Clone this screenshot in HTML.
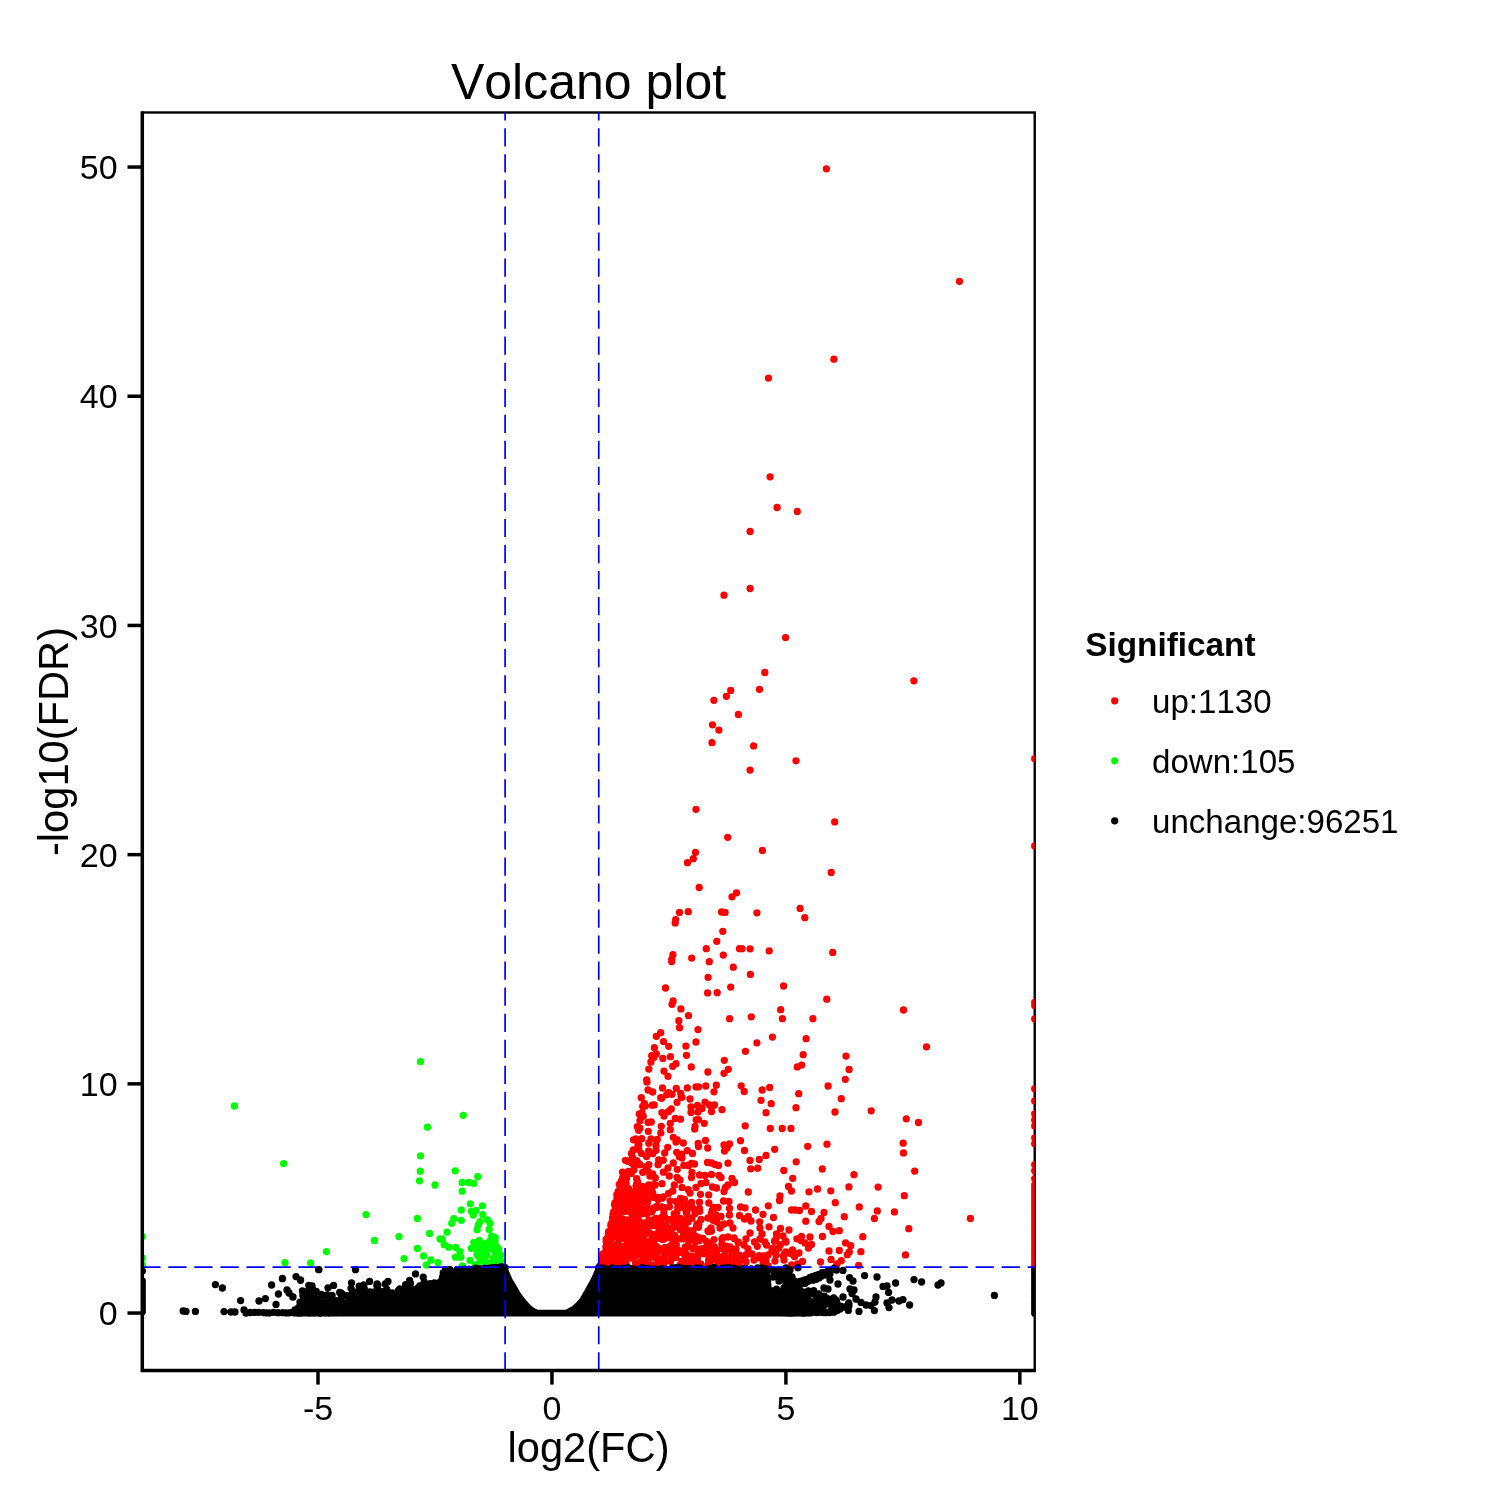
<!DOCTYPE html>
<html lang="en"><head><meta charset="utf-8"><title>Volcano plot</title>
<style>html,body{margin:0;padding:0;background:#fff}svg{display:block;will-change:transform}</style></head>
<body>
<svg width="1500" height="1500" viewBox="0 0 1500 1500">
<rect width="1500" height="1500" fill="#fff"/>
<defs><clipPath id="pc"><rect x="142.3" y="112.5" width="892.4" height="1257.9"/></clipPath></defs>
<rect x="142.3" y="112.5" width="892.4" height="1257.9" fill="none" stroke="#000" stroke-width="2.4"/>
<g clip-path="url(#pc)" fill="none" stroke-linecap="round" stroke-width="7.3">
<path stroke="#f00" d="M826.4 168.8h0M959.5 281.3h0M833.9 359.2h0M768.5 378.1h0M770.1 476.8h0M777.1 507.5h0M797.3 511.5h0M750.1 531.5h0M750.1 588.5h0M724.0 595.2h0M785.6 637.6h0M764.8 672.5h0M913.9 680.8h0M759.5 689.3h0M730.7 690.4h0M726.4 696.3h0M713.9 700.3h0M738.4 714.4h0M712.5 724.8h0M718.9 730.1h0M712.0 742.7h0M753.6 745.9h0M796.0 760.8h0M750.1 770.1h0M696.0 809.3h0M834.7 821.9h0M727.7 837.3h0M762.4 850.4h0M695.5 852.3h0M693.3 858.7h0M687.5 862.7h0M831.2 872.5h0M699.2 887.5h0M736.5 892.8h0M732.0 896.8h0M800.1 908.4h0M679.5 912.4h0M688.3 911.7h0M721.6 912.0h0M725.1 912.4h0M756.9 912.8h0M804.8 917.7h0M675.7 919.7h0M675.2 922.9h0M722.8 931.3h0M716.8 941.3h0M706.3 948.7h0M742.0 948.7h0M750.1 948.8h0M769.2 950.8h0M832.7 952.4h0M672.9 954.7h0M723.3 955.1h0M691.7 958.1h0M671.7 959.3h0M671.7 961.6h0M709.3 961.7h0M733.3 967.2h0M750.4 974.4h0M708.1 977.3h0M783.6 986.0h0M730.7 987.1h0M665.5 988.0h0M707.6 992.9h0M717.2 992.7h0M826.8 999.2h0M673.1 1000.9h0M672.0 1004.3h0M680.9 1008.9h0M780.7 1009.7h0M688.5 1015.6h0M751.3 1016.8h0M729.6 1018.7h0M782.4 1018.7h0M812.9 1018.7h0M678.8 1020.7h0M679.5 1027.7h0M698.0 1029.6h0M660.7 1032.7h0M656.3 1036.3h0M772.4 1037.1h0M806.1 1038.7h0M663.5 1041.6h0M696.0 1042.0h0M756.9 1042.8h0M668.7 1046.3h0M685.9 1046.1h0M654.4 1047.7h0M745.5 1051.3h0M656.3 1054.0h0M651.7 1055.7h0M803.2 1054.7h0M670.4 1056.7h0M686.5 1055.3h0M662.8 1058.4h0M654.0 1057.3h0M724.3 1060.3h0M650.9 1062.0h0M676.0 1063.7h0M672.7 1066.3h0M801.7 1065.1h0M797.3 1066.9h0M691.3 1066.9h0M648.8 1069.1h0M728.3 1069.3h0M664.0 1071.1h0M707.9 1072.0h0M724.0 1073.3h0M668.0 1076.3h0M646.7 1080.0h0M903.5 1010.0h0M926.5 1046.8h0M846.0 1056.1h0M849.1 1069.5h0M845.3 1079.3h0M841.3 1098.7h0M871.2 1110.8h0M906.3 1118.8h0M918.5 1122.5h0M903.2 1143.2h0M903.5 1152.9h0M914.7 1171.1h0M854.0 1174.7h0M848.9 1186.9h0M878.1 1187.1h0M904.3 1195.7h0M859.3 1206.9h0M877.3 1210.9h0M894.4 1211.9h0M844.3 1216.7h0M874.4 1218.5h0M970.4 1218.4h0M908.8 1228.7h0M839.3 1230.7h0M862.8 1236.7h0M845.6 1242.9h0M850.7 1245.7h0M839.3 1250.4h0M860.9 1251.7h0M849.3 1252.0h0M847.3 1254.7h0M905.5 1254.9h0M841.3 1260.7h0M858.7 1265.3h0M696.0 1086.8h0M698.5 1086.8h0M705.8 1086.0h0M716.3 1085.2h0M714.0 1091.8h0M741.2 1085.8h0M744.2 1091.5h0M762.2 1090.0h0M769.7 1087.5h0M798.7 1093.7h0M828.1 1086.0h0M690.0 1099.0h0M705.0 1102.2h0M697.5 1105.5h0M709.5 1105.0h0M714.5 1105.0h0M691.0 1107.0h0M702.0 1108.5h0M722.0 1109.7h0M711.5 1111.5h0M698.0 1112.0h0M691.0 1112.5h0M761.0 1100.3h0M771.2 1103.7h0M796.0 1107.7h0M835.0 1112.0h0M766.0 1112.7h0M696.2 1119.8h0M704.3 1123.3h0M695.0 1126.5h0M745.2 1125.8h0M770.3 1128.5h0M782.2 1128.5h0M791.0 1128.5h0M705.5 1140.5h0M698.2 1143.5h0M698.5 1146.5h0M707.7 1148.0h0M724.0 1145.0h0M729.5 1144.0h0M727.0 1148.0h0M724.5 1151.0h0M740.5 1140.7h0M744.5 1150.5h0M774.7 1149.3h0M807.7 1146.3h0M827.0 1144.2h0M692.5 1153.5h0M766.0 1155.5h0M759.3 1159.5h0M750.0 1160.5h0M796.2 1161.8h0M691.5 1163.5h0M694.5 1164.0h0M707.5 1162.5h0M711.5 1163.0h0M715.0 1164.5h0M718.5 1165.5h0M728.0 1163.2h0M750.7 1168.8h0M757.7 1168.2h0M783.8 1170.5h0M822.3 1169.0h0M692.0 1172.5h0M699.5 1175.0h0M705.0 1175.5h0M711.5 1174.5h0M719.0 1175.5h0M721.0 1177.5h0M732.0 1178.5h0M792.7 1178.3h0M691.5 1177.5h0M734.5 1182.5h0M706.0 1182.5h0M701.0 1183.5h0M728.0 1185.0h0M725.5 1187.5h0M696.0 1187.5h0M712.5 1187.0h0M716.5 1188.0h0M724.0 1191.5h0M788.5 1186.5h0M791.5 1191.0h0M817.5 1189.0h0M809.0 1191.8h0M830.8 1190.8h0M748.3 1192.0h0M700.5 1194.3h0M708.7 1194.8h0M780.0 1196.0h0M779.5 1200.5h0M690.0 1193.0h0M699.5 1202.2h0M708.8 1203.0h0M723.5 1201.0h0M729.0 1201.5h0M691.5 1202.5h0M835.3 1202.7h0M768.3 1205.8h0M805.8 1206.0h0M718.0 1207.5h0M729.5 1208.5h0M740.5 1207.0h0M745.0 1207.8h0M692.5 1208.0h0M755.5 1210.0h0M791.5 1210.0h0M795.0 1210.0h0M799.5 1210.5h0M811.5 1211.5h0M824.0 1212.5h0M763.0 1214.3h0M695.0 1213.5h0M716.0 1215.5h0M721.0 1216.5h0M729.5 1215.0h0M739.5 1215.5h0M748.3 1216.5h0M773.5 1217.5h0M708.0 1218.0h0M701.0 1219.5h0M692.0 1218.0h0M744.5 1219.0h0M751.0 1221.0h0M759.7 1221.8h0M805.8 1221.2h0M821.0 1218.5h0M819.0 1221.5h0M717.0 1222.0h0M730.0 1223.0h0M724.0 1224.0h0M697.0 1224.0h0M769.0 1226.8h0M829.0 1226.5h0M780.5 1228.5h0M711.0 1228.0h0M733.0 1228.0h0M720.0 1228.0h0M760.0 1228.0h0M789.0 1230.0h0M739.5 948.7h0M647.0 1082.0h0M648.0 1090.0h0M652.7 1092.0h0M662.5 1088.0h0M676.3 1088.3h0M668.7 1092.7h0M666.7 1094.7h0M672.0 1094.3h0M680.7 1093.3h0M661.7 1098.3h0M682.0 1097.3h0M677.0 1102.3h0M644.3 1103.3h0M642.7 1106.3h0M645.3 1106.0h0M671.3 1109.0h0M668.3 1111.7h0M642.0 1112.7h0M664.0 1116.0h0M643.3 1116.3h0M675.3 1118.3h0M640.0 1120.7h0M648.0 1122.3h0M651.3 1122.0h0M670.3 1123.3h0M661.3 1126.3h0M637.3 1126.7h0M670.3 1129.7h0M638.7 1130.3h0M648.3 1131.3h0M673.3 1137.3h0M635.7 1139.0h0M641.7 1138.7h0M651.0 1139.0h0M657.3 1139.3h0M677.3 1140.0h0M676.0 1142.0h0M683.3 1143.0h0M638.0 1145.3h0M656.0 1145.7h0M667.7 1147.3h0M633.3 1150.0h0M648.7 1151.0h0M656.0 1150.3h0M687.3 1150.7h0M664.7 1153.0h0M641.3 1153.3h0M652.7 1153.7h0M676.7 1152.3h0M632.3 1156.7h0M679.3 1156.7h0M682.0 1158.0h0M658.7 1160.0h0M663.3 1160.3h0M636.7 1160.7h0M673.3 1163.0h0M632.0 1163.3h0M689.3 1164.7h0M640.0 1164.7h0M658.0 1164.7h0M646.0 1166.7h0M668.0 1168.0h0M677.3 1169.3h0M648.0 1171.3h0M628.7 1171.3h0M631.3 1173.3h0M652.7 1174.0h0M669.3 1176.0h0M626.0 1177.3h0M655.3 1178.0h0M636.7 1178.7h0M680.0 1180.0h0M750.0 1233.0h0M833.0 1231.5h0M762.0 1234.0h0M776.5 1234.0h0M783.0 1236.0h0M801.5 1236.5h0M810.0 1237.0h0M822.5 1236.5h0M728.0 1237.0h0M734.0 1238.0h0M776.0 1239.0h0M801.0 1240.5h0M754.5 1242.0h0M760.0 1239.0h0M738.0 1242.0h0M746.0 1239.0h0M786.0 1242.0h0M805.0 1243.0h0M811.5 1244.5h0M766.5 1245.0h0M808.5 1248.0h0M723.0 1246.0h0M730.0 1247.0h0M736.0 1249.0h0M748.0 1249.0h0M744.0 1245.0h0M717.0 1250.0h0M779.0 1248.0h0M772.0 1250.0h0M792.5 1250.0h0M799.0 1253.0h0M829.0 1251.0h0M784.5 1254.0h0M794.5 1256.5h0M768.0 1255.0h0M776.0 1255.0h0M752.0 1254.0h0M746.0 1255.0h0M739.0 1256.0h0M732.0 1255.0h0M724.0 1257.0h0M718.0 1256.0h0M831.0 1259.5h0M802.5 1261.5h0M820.5 1262.0h0M784.0 1260.0h0M760.0 1258.0h0M754.0 1260.0h0M766.0 1260.0h0M775.0 1261.0h0M746.0 1262.0h0M736.0 1261.0h0M729.0 1262.0h0M721.0 1262.0h0M739.0 1265.5h0M837.0 1264.0h0M835.5 1267.0h0M655.1 1185.0h0M616.7 1217.3h0M676.4 1216.5h0M625.9 1192.4h0M618.9 1250.2h0M637.9 1234.9h0M623.3 1185.4h0M641.9 1238.5h0M645.2 1230.4h0M664.0 1248.3h0M652.8 1193.1h0M629.6 1255.3h0M685.2 1252.2h0M611.4 1237.1h0M609.1 1254.9h0M626.6 1254.3h0M630.0 1193.0h0M615.1 1202.6h0M643.2 1213.7h0M612.2 1234.5h0M628.0 1198.0h0M619.3 1184.5h0M644.3 1188.7h0M656.0 1255.2h0M649.0 1220.1h0M617.0 1251.3h0M647.7 1261.8h0M611.1 1226.7h0M642.4 1202.5h0M667.4 1250.4h0M638.1 1224.5h0M629.7 1211.4h0M675.9 1257.4h0M673.3 1236.2h0M645.4 1244.5h0M635.6 1263.6h0M665.3 1261.4h0M659.1 1264.3h0M619.4 1227.2h0M658.4 1263.5h0M621.3 1251.0h0M646.4 1202.3h0M632.6 1258.3h0M645.7 1258.9h0M610.8 1225.0h0M635.2 1227.9h0M672.5 1227.8h0M628.8 1228.2h0M647.7 1246.4h0M643.9 1239.6h0M684.9 1255.4h0M636.0 1186.2h0M628.3 1209.2h0M606.8 1242.1h0M612.5 1217.9h0M649.6 1233.7h0M637.2 1189.0h0M627.2 1247.0h0M665.5 1229.1h0M623.5 1200.5h0M624.1 1223.0h0M637.5 1181.6h0M651.8 1243.0h0M684.8 1220.8h0M640.7 1250.4h0M637.1 1251.8h0M688.5 1239.1h0M639.0 1214.8h0M627.2 1202.0h0M632.7 1204.2h0M623.2 1219.5h0M641.0 1206.6h0M653.4 1197.3h0M621.6 1202.7h0M621.1 1183.6h0M636.2 1255.6h0M613.1 1264.7h0M615.3 1249.9h0M664.2 1238.7h0M647.6 1244.4h0M620.6 1201.7h0M644.4 1263.9h0M660.5 1233.1h0M657.1 1206.2h0M662.7 1239.5h0M684.2 1264.1h0M632.2 1218.7h0M619.3 1261.3h0M663.8 1256.3h0M644.5 1257.2h0M624.7 1206.0h0M677.8 1207.2h0M676.3 1244.6h0M652.7 1265.9h0M633.0 1216.8h0M622.9 1260.5h0M624.9 1223.9h0M667.2 1227.2h0M630.6 1235.4h0M612.2 1259.7h0M623.3 1264.0h0M628.7 1194.4h0M645.4 1257.9h0M689.7 1257.9h0M631.4 1192.0h0M620.2 1209.4h0M639.8 1244.5h0M639.7 1225.1h0M621.2 1254.2h0M643.4 1257.0h0M623.3 1201.4h0M654.4 1219.3h0M632.1 1235.5h0M639.9 1230.1h0M608.6 1231.7h0M643.7 1256.0h0M615.6 1206.4h0M641.4 1238.0h0M683.7 1237.4h0M647.8 1243.6h0M685.7 1237.2h0M621.1 1192.2h0M607.4 1244.2h0M641.4 1212.6h0M617.0 1194.6h0M686.6 1210.2h0M618.7 1262.9h0M674.5 1250.7h0M618.2 1259.1h0M604.2 1257.1h0M669.8 1249.8h0M634.7 1207.2h0M602.7 1261.1h0M631.8 1213.2h0M684.2 1222.4h0M656.3 1246.5h0M620.0 1201.3h0M688.9 1256.0h0M643.2 1241.0h0M634.4 1197.1h0M689.2 1236.2h0M604.7 1258.6h0M641.6 1254.5h0M685.3 1246.9h0M658.8 1231.3h0M623.5 1211.7h0M616.9 1197.5h0M621.6 1238.3h0M660.7 1227.3h0M642.4 1255.9h0M609.1 1258.2h0M651.6 1211.9h0M617.8 1263.2h0M687.8 1261.1h0M640.4 1224.5h0M613.0 1217.7h0M643.4 1247.1h0M618.9 1220.7h0M618.5 1217.0h0M612.9 1223.9h0M614.0 1224.0h0M686.2 1212.5h0M615.6 1250.1h0M619.5 1259.1h0M635.3 1223.5h0M681.2 1238.5h0M613.7 1247.5h0M674.2 1213.9h0M651.8 1265.2h0M642.2 1245.8h0M662.4 1230.4h0M622.7 1180.2h0M643.1 1233.0h0M613.2 1257.0h0M608.5 1236.2h0M621.1 1210.5h0M670.8 1254.9h0M682.8 1201.4h0M642.0 1225.7h0M674.3 1185.0h0M685.2 1227.4h0M674.5 1235.2h0M636.7 1206.6h0M623.4 1199.4h0M648.9 1247.8h0M687.1 1235.2h0M603.2 1255.7h0M653.5 1242.3h0M662.0 1198.2h0M614.0 1258.3h0M619.5 1192.2h0M610.4 1243.4h0M607.4 1256.7h0M685.1 1258.6h0M624.3 1197.7h0M657.9 1251.0h0M636.5 1241.6h0M609.9 1233.2h0M651.0 1240.6h0M610.2 1254.2h0M616.9 1194.7h0M688.1 1245.5h0M657.9 1247.7h0M682.0 1187.4h0M638.2 1210.0h0M618.5 1229.8h0M622.7 1256.1h0M628.5 1193.3h0M653.4 1208.1h0M667.0 1248.4h0M663.3 1196.9h0M644.7 1197.8h0M659.9 1238.4h0M661.7 1206.9h0M627.8 1234.1h0M684.1 1238.1h0M671.5 1236.3h0M688.0 1222.1h0M647.0 1260.9h0M617.2 1210.6h0M613.0 1214.4h0M647.7 1260.8h0M637.4 1248.9h0M625.9 1253.2h0M647.0 1201.8h0M608.3 1234.5h0M659.1 1261.9h0M628.5 1188.7h0M633.8 1246.8h0M671.5 1257.8h0M619.9 1252.1h0M650.7 1255.9h0M652.2 1185.0h0M602.8 1254.2h0M635.4 1252.3h0M606.9 1262.6h0M609.3 1234.7h0M684.2 1238.7h0M645.8 1264.4h0M604.5 1257.2h0M622.2 1246.3h0M631.6 1223.3h0M637.7 1208.5h0M612.9 1226.9h0M655.5 1258.2h0M671.2 1219.4h0M659.4 1258.6h0M605.6 1260.3h0M688.3 1260.6h0M627.1 1198.3h0M607.9 1263.1h0M670.1 1200.8h0M666.3 1253.6h0M606.2 1241.7h0M674.8 1236.0h0M669.4 1206.8h0M644.9 1254.0h0M670.7 1261.3h0M675.4 1240.5h0M633.1 1231.7h0M634.9 1256.4h0M614.5 1204.4h0M605.4 1256.3h0M682.8 1238.9h0M627.0 1220.0h0M672.2 1244.6h0M647.8 1256.1h0M623.5 1230.7h0M617.2 1247.7h0M653.0 1209.7h0M655.4 1221.8h0M617.9 1201.8h0M622.7 1195.5h0M681.9 1261.5h0M640.4 1231.4h0M623.3 1262.5h0M647.0 1213.8h0M689.3 1263.1h0M688.8 1235.6h0M631.2 1238.2h0M613.4 1245.2h0M634.3 1194.5h0M607.2 1238.3h0M614.0 1256.4h0M644.6 1234.0h0M644.6 1250.8h0M633.5 1192.3h0M652.2 1241.4h0M625.5 1254.9h0M626.2 1208.8h0M682.6 1207.4h0M604.9 1264.2h0M624.0 1237.5h0M633.8 1204.6h0M609.6 1259.6h0M606.6 1257.1h0M688.4 1205.2h0M632.9 1249.4h0M658.2 1198.8h0M622.1 1196.9h0M648.4 1232.3h0M653.8 1249.8h0M679.8 1221.0h0M678.3 1250.2h0M629.2 1199.2h0M676.3 1201.5h0M666.0 1225.0h0M665.1 1254.8h0M623.7 1204.0h0M633.1 1246.8h0M607.2 1252.9h0M684.1 1262.4h0M614.8 1225.6h0M611.4 1223.4h0M604.8 1256.1h0M626.1 1261.8h0M616.8 1235.7h0M646.3 1262.2h0M653.0 1220.1h0M627.2 1190.7h0M634.3 1215.0h0M632.3 1206.7h0M617.7 1246.4h0M640.7 1254.9h0M618.0 1243.5h0M674.3 1253.1h0M638.9 1232.2h0M668.0 1219.4h0M645.4 1223.0h0M618.5 1262.5h0M602.1 1258.3h0M617.3 1225.2h0M686.9 1255.7h0M647.6 1251.0h0M679.9 1265.2h0M624.8 1223.4h0M657.1 1234.2h0M657.1 1265.5h0M606.1 1239.4h0M651.4 1265.8h0M625.3 1189.2h0M608.8 1249.4h0M626.0 1210.4h0M639.7 1262.5h0M629.5 1250.2h0M673.5 1221.7h0M643.0 1194.9h0M626.1 1263.6h0M617.0 1214.7h0M633.5 1251.0h0M637.2 1196.4h0M668.6 1193.4h0M677.6 1203.2h0M686.8 1212.4h0M645.6 1261.8h0M680.5 1198.3h0M653.2 1224.1h0M633.8 1228.8h0M664.2 1207.6h0M638.0 1228.3h0M619.1 1205.5h0M637.6 1191.4h0M661.8 1238.4h0M622.2 1234.1h0M622.3 1183.5h0M626.9 1241.6h0M635.3 1238.9h0M670.5 1251.7h0M636.6 1184.1h0M611.9 1244.5h0M672.8 1191.0h0M673.6 1240.4h0M629.2 1226.8h0M644.6 1210.8h0M626.2 1237.6h0M620.5 1197.8h0M625.7 1211.2h0M617.4 1228.5h0M633.5 1201.6h0M683.6 1252.7h0M676.9 1211.8h0M644.7 1261.3h0M687.6 1218.1h0M671.3 1253.6h0M638.1 1216.2h0M636.9 1228.5h0M608.5 1249.8h0M632.0 1232.4h0M643.4 1261.9h0M654.8 1225.6h0M658.2 1199.5h0M656.9 1224.1h0M617.5 1215.1h0M671.7 1228.4h0M609.0 1246.8h0M613.7 1212.0h0M616.8 1254.9h0M613.7 1251.0h0M662.0 1183.7h0M674.0 1227.2h0M661.1 1259.6h0M617.4 1230.0h0M601.6 1261.6h0M606.6 1248.8h0M662.2 1250.4h0M642.2 1186.5h0M653.7 1256.9h0M639.9 1229.6h0M689.3 1262.3h0M660.7 1223.8h0M641.7 1227.4h0M639.5 1221.4h0M641.5 1200.2h0M655.9 1218.3h0M621.7 1194.5h0M614.6 1230.2h0M634.0 1203.7h0M645.4 1198.8h0M632.0 1255.3h0M683.6 1235.0h0M648.5 1184.9h0M634.9 1233.9h0M628.9 1231.4h0M604.6 1264.9h0M633.1 1242.3h0M656.7 1236.5h0M670.8 1245.6h0M618.2 1191.3h0M671.2 1236.4h0M620.2 1265.1h0M620.5 1187.7h0M615.4 1259.2h0M660.8 1222.9h0M643.3 1248.8h0M610.9 1257.7h0M607.4 1254.3h0M625.7 1233.9h0M647.4 1202.6h0M625.6 1254.8h0M627.6 1250.8h0M681.3 1221.8h0M656.2 1238.7h0M680.4 1229.8h0M626.4 1265.6h0M688.2 1189.6h0M614.6 1258.4h0M609.0 1239.3h0M647.6 1199.9h0M612.5 1255.6h0M648.6 1191.7h0M618.8 1223.1h0M628.2 1242.9h0M620.0 1202.8h0M639.1 1241.7h0M644.1 1213.1h0M599.8 1265.9h0M623.6 1259.7h0M631.1 1212.4h0M605.6 1258.1h0M687.8 1207.1h0M689.6 1230.9h0M668.7 1234.1h0M638.7 1241.2h0M663.4 1232.7h0M652.1 1234.1h0M628.0 1221.0h0M648.0 1259.8h0M674.9 1225.4h0M605.9 1254.6h0M674.1 1251.6h0M635.5 1193.2h0M617.8 1218.9h0M662.4 1265.7h0M628.6 1224.8h0M642.5 1209.2h0M658.3 1197.3h0M638.1 1233.1h0M633.8 1249.7h0M683.8 1229.8h0M664.0 1263.5h0M633.9 1237.2h0M636.9 1245.0h0M668.3 1237.7h0M670.2 1246.2h0M646.2 1241.2h0M638.4 1202.6h0M651.0 1253.9h0M615.5 1216.1h0M630.1 1202.1h0M639.3 1226.2h0M656.7 1222.1h0M612.8 1227.8h0M680.4 1218.3h0M661.6 1217.3h0M608.5 1254.2h0M630.9 1238.0h0M623.5 1197.8h0M685.8 1247.4h0M618.9 1239.0h0M656.5 1207.4h0M614.7 1213.7h0M625.4 1235.1h0M664.7 1217.0h0M684.5 1265.7h0M684.4 1222.7h0M616.1 1226.5h0M684.4 1199.5h0M659.2 1261.2h0M647.8 1208.6h0M645.7 1231.2h0M663.9 1212.2h0M678.9 1252.4h0M651.6 1190.1h0M650.1 1226.1h0M646.0 1197.0h0M681.2 1223.2h0M664.6 1229.1h0M617.7 1244.5h0M681.7 1205.1h0M665.1 1247.4h0M694.7 1128.9h0M638.8 1149.5h0M683.8 1165.3h0M652.5 1153.2h0M625.5 1160.3h0M681.2 1096.5h0M638.4 1163.2h0M649.9 1176.0h0M636.6 1163.9h0M698.5 1119.6h0M681.7 1154.2h0M634.0 1169.7h0M633.5 1139.8h0M639.8 1114.6h0M646.5 1156.5h0M663.4 1172.2h0M633.2 1161.7h0M660.7 1097.7h0M648.8 1143.2h0M652.4 1105.2h0M680.5 1119.2h0M648.8 1164.7h0M638.9 1144.8h0M687.3 1087.9h0M660.8 1132.9h0M626.4 1178.7h0M631.5 1153.4h0M639.3 1114.0h0M639.9 1128.2h0M654.2 1104.9h0M641.3 1097.7h0M656.5 1140.6h0M627.8 1161.3h0M642.7 1172.3h0M677.1 1177.4h0M637.1 1161.7h0M622.5 1172.1h0M661.9 1112.6h0M659.2 1162.1h0M688.5 1165.7h0M690.2 1257.7h0M701.8 1248.7h0M708.6 1260.1h0M712.1 1254.5h0M708.4 1245.9h0M699.1 1240.8h0M714.2 1253.5h0M715.9 1260.1h0M696.5 1239.9h0M698.5 1263.2h0M713.1 1257.9h0M706.3 1241.3h0M715.1 1249.3h0M706.9 1249.1h0M700.6 1263.8h0M715.2 1254.8h0M694.6 1265.6h0M708.0 1254.7h0M696.5 1257.1h0M708.0 1231.0h0M707.1 1251.3h0M697.9 1255.0h0M690.4 1232.4h0M692.9 1235.1h0M707.9 1264.9h0M694.6 1257.7h0M708.9 1246.0h0M698.9 1263.6h0M711.5 1231.1h0M710.9 1260.8h0M690.3 1240.0h0M694.1 1262.6h0M707.2 1251.1h0M707.0 1243.8h0M691.7 1238.0h0M708.8 1243.1h0M696.5 1258.4h0M692.9 1248.8h0M697.4 1258.7h0M695.8 1257.5h0M700.0 1237.9h0M690.8 1238.5h0M693.1 1233.4h0M696.0 1236.3h0M691.8 1234.3h0M714.4 1246.9h0M696.2 1248.9h0M695.5 1261.1h0M714.0 1239.6h0M691.9 1256.3h0M695.3 1241.4h0M694.7 1247.3h0M703.4 1253.5h0M709.3 1246.9h0M703.0 1238.4h0M734.2 1238.5h0M727.8 1249.2h0M773.0 1248.1h0M735.6 1264.5h0M768.2 1265.8h0M717.9 1256.1h0M785.6 1240.9h0M775.8 1252.9h0M790.5 1253.4h0M759.1 1255.6h0M772.9 1251.7h0M783.2 1256.2h0M735.6 1259.6h0M733.4 1264.7h0M791.6 1264.8h0M726.7 1259.0h0M738.3 1242.4h0M741.3 1259.0h0M765.5 1262.3h0M721.9 1244.2h0M774.5 1241.2h0M717.6 1265.6h0M797.5 1264.0h0M723.0 1237.6h0M757.3 1246.3h0M763.1 1263.9h0M723.9 1260.1h0M735.4 1259.7h0M763.5 1255.9h0M764.9 1241.8h0M736.2 1255.0h0M742.0 1259.8h0M720.7 1257.6h0M732.6 1249.9h0M724.8 1254.6h0M739.4 1255.1h0M792.4 1265.4h0M723.2 1249.1h0M796.9 1238.8h0M780.5 1244.6h0M721.9 1239.2h0M786.0 1252.0h0M726.4 1246.1h0M725.8 1265.2h0M726.9 1258.0h0M692.8 1230.7h0M696.4 1210.8h0M715.8 1215.0h0M698.4 1227.3h0M698.9 1223.8h0M711.4 1213.4h0M690.3 1218.4h0M713.4 1219.4h0M712.1 1210.5h0M699.5 1208.5h0M699.8 1211.3h0M713.6 1207.3h0M713.1 1220.3h0M713.9 1207.8h0M708.9 1231.7h0M696.6 1226.0h0M615.1 1209.6h0M612.0 1224.1h0M616.4 1205.6h0M606.4 1251.8h0M605.0 1252.2h0M602.9 1260.4h0M608.0 1242.7h0M625.5 1179.4h0M606.5 1254.2h0M616.1 1205.9h0M606.5 1246.2h0M623.9 1194.5h0M615.1 1206.0h0M616.8 1204.8h0M622.7 1177.4h0M623.2 1181.4h0M621.3 1181.2h0M614.4 1217.0h0M616.1 1211.6h0M622.8 1203.2h0M611.3 1232.5h0M604.7 1256.9h0M608.6 1241.8h0M615.6 1227.2h0M625.1 1184.6h0M614.1 1222.2h0M617.2 1219.0h0M611.0 1235.6h0M619.9 1193.9h0M603.5 1262.2h0M611.9 1238.3h0M626.6 1178.2h0M613.9 1228.8h0M615.1 1214.1h0M626.1 1183.4h0M605.9 1246.8h0M615.6 1207.5h0M609.7 1248.0h0M624.8 1194.9h0M619.3 1214.4h0M615.9 1209.6h0M624.9 1193.4h0M618.3 1202.5h0M622.8 1192.0h0M615.0 1224.8h0M1034.7 758.7h0M1034.7 845.9h0M1034.7 1002.3h0M1034.7 1005.6h0M1034.7 1019.0h0M1034.7 1088.7h0M1034.7 1100.9h0M1034.7 1114.0h0M1034.7 1120.0h0M1034.7 1126.0h0M1034.7 1138.0h0M1034.7 1143.7h0M1034.7 1164.7h0M1034.7 1170.7h0M1034.7 1178.7h0M1034.7 1185.0h0M1034.7 1187.2h0M1034.7 1189.4h0M1034.7 1191.6h0M1034.7 1193.8h0M1034.7 1196.0h0M1034.7 1198.2h0M1034.7 1200.4h0M1034.7 1202.6h0M1034.7 1204.8h0M1034.7 1207.0h0M1034.7 1209.2h0M1034.7 1211.4h0M1034.7 1213.6h0M1034.7 1215.8h0M1034.7 1218.0h0M1034.7 1220.2h0M1034.7 1222.4h0M1034.7 1224.6h0M1034.7 1226.8h0M1034.7 1229.0h0M1034.7 1231.2h0M1034.7 1233.4h0M1034.7 1235.6h0M1034.7 1237.8h0M1034.7 1240.0h0M1034.7 1242.2h0M1034.7 1244.4h0M1034.7 1246.6h0M1034.7 1248.8h0M1034.7 1251.0h0M1034.7 1253.2h0M1034.7 1255.4h0M1034.7 1257.6h0M1034.7 1259.8h0M1034.7 1262.0h0M1034.7 1264.2h0M1034.7 1266.4h0"/>
<path stroke="#0f0" d="M285.0 1262.6h0M310.6 1263.0h0M326.4 1251.6h0M366.0 1214.6h0M374.4 1240.4h0M399.0 1236.6h0M404.0 1258.6h0M417.4 1218.4h0M417.4 1248.4h0M423.6 1256.0h0M426.4 1265.0h0M429.6 1233.4h0M431.0 1260.0h0M438.0 1262.6h0M440.0 1239.0h0M420.5 1061.7h0M463.3 1115.3h0M427.5 1127.2h0M420.5 1155.8h0M420.3 1171.2h0M419.5 1180.8h0M435.0 1185.0h0M455.3 1170.8h0M477.8 1176.7h0M462.2 1182.5h0M468.8 1182.5h0M473.8 1183.3h0M462.2 1191.2h0M470.3 1203.8h0M482.5 1205.8h0M461.3 1210.0h0M471.3 1211.3h0M476.2 1210.3h0M473.3 1215.0h0M482.8 1214.7h0M453.8 1218.7h0M461.3 1220.3h0M451.7 1223.3h0M480.0 1221.7h0M487.5 1220.0h0M490.0 1223.3h0M478.3 1225.0h0M477.2 1229.7h0M489.2 1229.5h0M447.0 1232.2h0M442.2 1239.2h0M491.7 1237.8h0M495.0 1241.3h0M488.3 1243.0h0M473.8 1242.5h0M444.2 1244.7h0M448.8 1247.2h0M455.8 1247.5h0M471.2 1248.3h0M460.0 1251.7h0M483.3 1248.3h0M495.0 1248.3h0M455.5 1257.2h0M460.8 1257.2h0M470.0 1260.3h0M462.5 1265.8h0M501.7 1261.7h0M234.4 1106.0h0M283.6 1163.6h0M494.8 1252.6h0M489.8 1262.9h0M499.8 1262.5h0M498.1 1251.1h0M489.2 1248.5h0M476.4 1249.8h0M493.6 1258.1h0M495.3 1237.6h0M500.7 1254.8h0M480.8 1258.6h0M477.9 1244.9h0M498.6 1249.0h0M487.7 1263.9h0M477.8 1253.5h0M482.9 1247.9h0M491.1 1246.4h0M494.1 1240.5h0M484.8 1247.8h0M478.2 1264.0h0M496.4 1261.1h0M484.5 1252.2h0M486.8 1254.9h0M482.9 1243.7h0M496.6 1246.7h0M490.1 1240.7h0M479.3 1240.3h0M501.2 1262.9h0M484.9 1261.3h0M495.4 1261.8h0M475.1 1264.8h0M477.0 1254.6h0M483.9 1248.8h0M478.8 1256.8h0M482.9 1253.7h0M498.9 1263.8h0M477.7 1252.5h0M491.2 1247.3h0M496.0 1259.7h0M491.7 1236.2h0M491.8 1263.4h0M496.0 1259.4h0M142.3 1236.4h0M142.3 1257.9h0M142.3 1264.4h0"/>
<polygon fill="#000" points="296.0,1316.4 296.0,1309.0 296.0,1311.5 300.0,1303.5 305.0,1292.5 312.0,1290.5 320.0,1297.5 335.0,1302.5 345.0,1299.5 355.0,1294.5 370.0,1292.5 388.0,1292.5 397.0,1295.5 409.0,1291.5 423.0,1290.5 433.0,1290.5 441.0,1281.5 450.0,1275.5 458.0,1273.0 474.0,1271.5 506.7,1266.3 509.6,1272.6 512.6,1279.5 516.5,1285.7 520.3,1292.6 524.9,1298.7 529.5,1304.1 534.1,1307.9 537.9,1309.7 565.6,1309.7 571.7,1306.4 576.3,1302.5 580.1,1298.0 583.2,1292.6 587.0,1285.7 590.9,1278.8 593.9,1271.9 596.4,1266.3 769.0,1266.3 771.0,1280.0 772.0,1292.0 780.0,1291.5 795.0,1291.0 803.0,1295.0 808.0,1302.0 811.0,1310.0 812.0,1316.4"/>
<path stroke="#000" d="M183.2 1311.0h0M186.0 1311.4h0M195.4 1311.4h0M215.4 1284.6h0M222.4 1288.0h0M224.0 1311.6h0M231.0 1312.0h0M235.0 1312.0h0M240.6 1300.6h0M244.0 1310.0h0M259.0 1301.0h0M265.4 1298.6h0M271.6 1285.0h0M276.0 1304.4h0M278.4 1294.0h0M282.4 1278.4h0M287.0 1290.0h0M289.0 1293.0h0M293.0 1297.0h0M296.0 1276.6h0M300.6 1280.0h0M318.6 1269.6h0M355.6 1269.6h0M798.0 1267.6h0M790.0 1270.0h0M843.0 1270.4h0M836.6 1270.0h0M864.6 1275.6h0M849.6 1277.6h0M853.0 1281.0h0M877.0 1277.0h0M830.0 1280.0h0M838.0 1284.0h0M895.6 1283.0h0M914.0 1279.6h0M921.6 1282.0h0M938.0 1285.0h0M941.0 1283.0h0M883.0 1286.4h0M887.0 1286.0h0M888.6 1292.4h0M994.4 1295.4h0M824.0 1288.0h0M828.0 1289.0h0M814.0 1291.6h0M850.0 1289.0h0M854.0 1290.0h0M852.0 1293.6h0M876.0 1297.0h0M875.0 1302.0h0M843.0 1297.0h0M856.0 1299.0h0M861.0 1302.4h0M866.0 1305.0h0M871.0 1305.6h0M849.0 1304.0h0M887.0 1303.0h0M892.0 1300.0h0M899.0 1301.0h0M903.0 1299.6h0M889.0 1307.6h0M909.6 1305.0h0M859.0 1311.4h0M874.4 1310.6h0M840.0 1309.0h0M845.0 1307.0h0M830.0 1312.0h0M282.4 1278.7h0M296.0 1276.6h0M300.5 1280.3h0M287.2 1290.2h0M292.8 1296.9h0M318.9 1269.7h0M355.5 1269.7h0M351.5 1283.0h0M369.6 1281.4h0M388.0 1281.4h0M333.6 1285.4h0M328.0 1287.8h0M308.8 1285.4h0M302.4 1291.0h0M342.4 1294.2h0M359.2 1286.2h0M376.8 1285.4h0M409.6 1280.3h0M415.5 1273.9h0M423.2 1277.1h0M405.6 1284.6h0M443.2 1272.9h0M442.4 1277.4h0M434.4 1283.0h0M430.4 1285.4h0M449.6 1269.4h0M454.4 1279.0h0M448.0 1283.0h0M462.4 1271.0h0M472.0 1270.2h0M420.0 1287.8h0M403.2 1290.2h0M246.0 1313.0h0M250.2 1312.5h0M254.6 1312.4h0M258.6 1312.3h0M263.3 1312.6h0M266.5 1312.9h0M269.2 1312.9h0M273.6 1312.3h0M278.0 1312.7h0M282.7 1312.7h0M286.3 1312.9h0M289.0 1312.8h0M291.8 1312.4h0M294.6 1312.9h0M298.2 1312.8h0M301.3 1312.8h0M305.4 1312.3h0M309.2 1312.8h0M312.2 1312.7h0M315.4 1312.5h0M320.2 1313.0h0M325.2 1312.5h0M329.1 1312.8h0M333.5 1312.6h0M338.2 1312.5h0M343.1 1312.6h0M300.0 1302.2h0M302.9 1295.6h0M305.6 1291.8h0M309.7 1289.9h0M312.6 1289.4h0M316.2 1291.5h0M321.2 1294.5h0M325.1 1296.0h0M330.2 1300.1h0M332.8 1299.7h0M336.7 1300.7h0M341.4 1298.1h0M346.7 1295.7h0M349.6 1296.2h0M352.4 1292.8h0M356.4 1291.8h0M359.4 1293.2h0M363.4 1292.2h0M366.6 1292.2h0M369.8 1291.8h0M374.1 1291.9h0M378.9 1290.9h0M383.0 1291.6h0M386.8 1289.3h0M392.1 1292.8h0M396.6 1294.1h0M399.8 1292.4h0M404.8 1292.3h0M410.1 1288.4h0M414.6 1289.3h0M418.3 1287.8h0M421.2 1288.5h0M425.2 1287.8h0M428.8 1288.7h0M433.6 1288.1h0M436.6 1285.6h0M440.2 1281.8h0M445.7 1275.3h0M449.9 1275.0h0M453.6 1272.5h0M457.0 1269.9h0M460.1 1269.7h0M463.5 1270.9h0M467.7 1271.4h0M472.2 1269.3h0M477.6 1269.7h0M481.7 1270.2h0M486.2 1268.4h0M490.5 1268.0h0M495.9 1267.5h0M501.3 1266.7h0M503.9 1268.0h0M398.6 1290.4h0M446.3 1270.6h0M424.2 1281.9h0M468.9 1269.5h0M428.4 1286.5h0M332.1 1295.4h0M465.5 1269.5h0M407.4 1288.0h0M385.3 1284.0h0M410.5 1283.3h0M326.9 1294.8h0M351.0 1288.3h0M339.7 1292.4h0M363.8 1284.9h0M399.8 1289.0h0M465.1 1269.5h0M426.1 1286.2h0M445.4 1269.7h0M341.0 1293.0h0M364.2 1288.5h0M377.8 1285.2h0M463.3 1269.5h0M469.1 1269.5h0M419.7 1285.9h0M430.3 1283.7h0M377.1 1284.0h0M295.0 1310.0h0M298.7 1307.3h0M300.9 1304.7h0M302.9 1302.0h0M304.6 1299.3h0M306.3 1296.7h0M307.8 1294.0h0M309.3 1291.3h0M310.7 1288.7h0M312.0 1286.0h0M598.5 1268.0h0M602.1 1267.8h0M605.7 1268.8h0M611.9 1267.8h0M616.9 1268.7h0M622.1 1268.3h0M627.3 1267.4h0M630.5 1268.4h0M634.5 1269.1h0M638.4 1269.3h0M642.4 1267.6h0M647.3 1268.3h0M651.7 1269.2h0M655.5 1268.9h0M661.9 1268.4h0M666.9 1269.5h0M672.3 1267.8h0M675.6 1267.6h0M679.9 1267.6h0M685.5 1268.4h0M689.8 1268.6h0M696.5 1268.0h0M700.1 1268.1h0M704.4 1269.5h0M710.2 1268.4h0M713.9 1267.5h0M717.4 1269.3h0M723.0 1267.8h0M728.5 1267.5h0M733.5 1268.2h0M736.9 1269.1h0M742.8 1268.6h0M746.5 1268.9h0M751.2 1268.9h0M754.6 1269.5h0M757.6 1267.9h0M762.2 1267.9h0M765.5 1269.0h0M476.0 1268.2h0M480.1 1268.9h0M484.0 1268.3h0M489.7 1268.4h0M493.3 1267.6h0M498.5 1269.7h0M505.2 1267.6h0M798.0 1282.0h0M797.0 1285.6h0M801.0 1281.1h0M799.8 1284.9h0M804.0 1280.1h0M802.5 1283.6h0M807.0 1279.1h0M805.2 1283.3h0M810.0 1277.5h0M808.0 1281.3h0M813.0 1276.4h0M810.8 1280.2h0M816.0 1275.5h0M813.5 1280.0h0M819.0 1274.3h0M816.2 1279.3h0M822.0 1272.6h0M819.0 1277.9h0M825.0 1272.3h0M821.8 1276.0h0M828.0 1270.7h0M824.5 1274.9h0M831.0 1269.8h0M827.2 1274.8h0M834.0 1268.4h0M830.0 1273.7h0M772.0 1270.0h0M775.0 1273.0h0M777.0 1277.0h0M773.0 1277.0h0M779.0 1270.0h0M786.0 1268.0h0M789.0 1272.0h0M792.0 1277.0h0M787.0 1279.0h0M790.0 1283.0h0M794.0 1281.0h0M785.0 1274.0h0M784.0 1288.0h0M788.0 1287.0h0M792.0 1288.0h0M785.0 1270.0h0M788.0 1275.0h0M790.0 1280.0h0M783.0 1278.0h0M786.0 1283.0h0M798.0 1267.8h0M774.0 1270.5h0M776.0 1275.0h0M781.0 1272.0h0M779.0 1281.0h0M792.0 1285.0h0M818.3 1307.6h0M848.9 1306.0h0M804.6 1307.1h0M835.8 1299.9h0M833.6 1297.8h0M809.8 1303.3h0M816.9 1301.3h0M829.4 1300.4h0M825.1 1304.5h0M813.8 1308.4h0M839.1 1306.0h0M814.5 1301.5h0M810.6 1302.0h0M815.3 1300.8h0M836.7 1301.3h0M831.8 1308.1h0M803.0 1299.3h0M848.3 1310.4h0M836.9 1305.4h0M813.5 1303.0h0M822.0 1302.7h0M848.7 1303.0h0M822.0 1302.3h0M812.8 1293.9h0M819.0 1295.0h0M831.2 1300.2h0M833.7 1306.9h0M811.7 1304.7h0M816.1 1294.9h0M832.2 1306.7h0M806.1 1296.6h0M805.8 1312.5h0M824.0 1312.6h0M819.0 1298.9h0M819.4 1309.2h0M813.0 1308.1h0M810.6 1293.2h0M804.5 1299.6h0M825.8 1312.5h0M825.5 1304.3h0M817.9 1300.7h0M828.2 1301.2h0M847.8 1305.1h0M832.8 1305.7h0M816.4 1309.9h0M820.9 1312.0h0M820.1 1297.9h0M833.2 1304.4h0M811.6 1308.7h0M801.4 1296.0h0M823.6 1299.1h0M832.3 1308.1h0M808.6 1302.9h0M827.5 1298.7h0M830.8 1299.3h0M839.0 1306.8h0M822.1 1309.8h0M805.3 1304.8h0M813.4 1309.9h0M841.4 1306.3h0M810.2 1310.8h0M801.3 1298.5h0M803.6 1304.9h0M808.0 1298.5h0M836.6 1301.6h0M823.2 1309.1h0M809.8 1311.9h0M837.2 1310.4h0M834.8 1303.8h0M810.9 1311.9h0M772.0 1290.8h0M776.5 1289.1h0M781.8 1291.6h0M787.4 1290.2h0M791.0 1290.2h0M796.2 1291.3h0M800.4 1290.8h0M803.9 1292.2h0M808.3 1290.8h0M813.7 1290.6h0M818.8 1294.0h0M824.3 1296.1h0M828.1 1300.1h0M832.6 1301.6h0M770.0 1312.4h0M773.4 1312.2h0M777.5 1312.4h0M781.6 1312.6h0M785.3 1312.7h0M788.1 1312.8h0M791.2 1312.9h0M795.2 1312.7h0M799.4 1312.5h0M803.2 1313.0h0M806.1 1312.3h0M809.4 1312.6h0M812.2 1312.4h0M816.5 1312.5h0M819.3 1312.3h0M822.9 1312.4h0M826.4 1312.6h0M829.7 1312.6h0M833.9 1312.2h0M142.3 1271.0h0M142.3 1281.0h0M142.3 1283.2h0M142.3 1285.4h0M142.3 1287.6h0M142.3 1289.8h0M142.3 1292.0h0M142.3 1294.2h0M142.3 1296.4h0M142.3 1298.6h0M142.3 1300.8h0M142.3 1303.0h0M142.3 1305.2h0M142.3 1307.4h0M142.3 1309.6h0M142.3 1311.8h0M1034.7 1270.0h0M1034.7 1272.4h0M1034.7 1274.8h0M1034.7 1277.2h0M1034.7 1279.6h0M1034.7 1282.0h0M1034.7 1284.4h0M1034.7 1286.8h0M1034.7 1289.2h0M1034.7 1291.6h0M1034.7 1294.0h0M1034.7 1296.4h0M1034.7 1298.8h0M1034.7 1301.2h0M1034.7 1303.6h0M1034.7 1306.0h0M1034.7 1308.4h0M1034.7 1310.8h0M1034.7 1313.2h0"/>
</g>
<g stroke="#00f" stroke-width="1.7" fill="none" stroke-dasharray="18.23 7.81">
<path d="M505.1 1370.4 V112.5"/>
<path d="M598.75 1370.4 V112.5"/>
<path d="M142.3 1267.2 H1034.7"/>
</g>
<g stroke="#000" stroke-width="3.5" fill="none">
<path d="M142.3 111.5 V1370.4 H1035.7"/>
<path d="M318 1370.4 v14.2"/>
<path d="M551.95 1370.4 v14.2"/>
<path d="M785.9 1370.4 v14.2"/>
<path d="M1019.85 1370.4 v14.2"/>
<path d="M142.3 1313.05 h-14.8"/>
<path d="M142.3 1083.85 h-14.8"/>
<path d="M142.3 854.65 h-14.8"/>
<path d="M142.3 625.45 h-14.8"/>
<path d="M142.3 396.25 h-14.8"/>
<path d="M142.3 167.05 h-14.8"/>
</g>
<g font-family="'Liberation Sans', sans-serif" fill="#000" style="font-kerning:none">
<g font-size="34" text-anchor="middle">
<text x="318" y="1419.6">-5</text>
<text x="551.95" y="1419.6">0</text>
<text x="785.9" y="1419.6">5</text>
<text x="1019.85" y="1419.6">10</text>
</g><g font-size="34" text-anchor="end">
<text x="117.6" y="1325.25">0</text>
<text x="117.6" y="1096.05">10</text>
<text x="117.6" y="866.85">20</text>
<text x="117.6" y="637.65">30</text>
<text x="117.6" y="408.45">40</text>
<text x="117.6" y="179.25">50</text>
</g>
<text x="588.5" y="98.7" font-size="50" text-anchor="middle">Volcano plot</text>
<text x="588.5" y="1462.4" font-size="41.67" text-anchor="middle">log2(FC)</text>
<text transform="translate(68.2 741.5) rotate(-90)" font-size="41.67" text-anchor="middle">-log10(FDR)</text>
<text x="1085.3" y="656" font-size="33.3" font-weight="bold">Significant</text>
<circle cx="1114.7" cy="700.8" r="3.65" fill="#f00"/>
<text x="1152" y="713.3" font-size="33.1">up:1130</text>
<circle cx="1114.7" cy="760.8" r="3.65" fill="#0f0"/>
<text x="1152" y="773.3" font-size="33.1">down:105</text>
<circle cx="1114.7" cy="820.8" r="3.65" fill="#000"/>
<text x="1152" y="833.3" font-size="33.1">unchange:96251</text>
</g>
</svg>
</body></html>
